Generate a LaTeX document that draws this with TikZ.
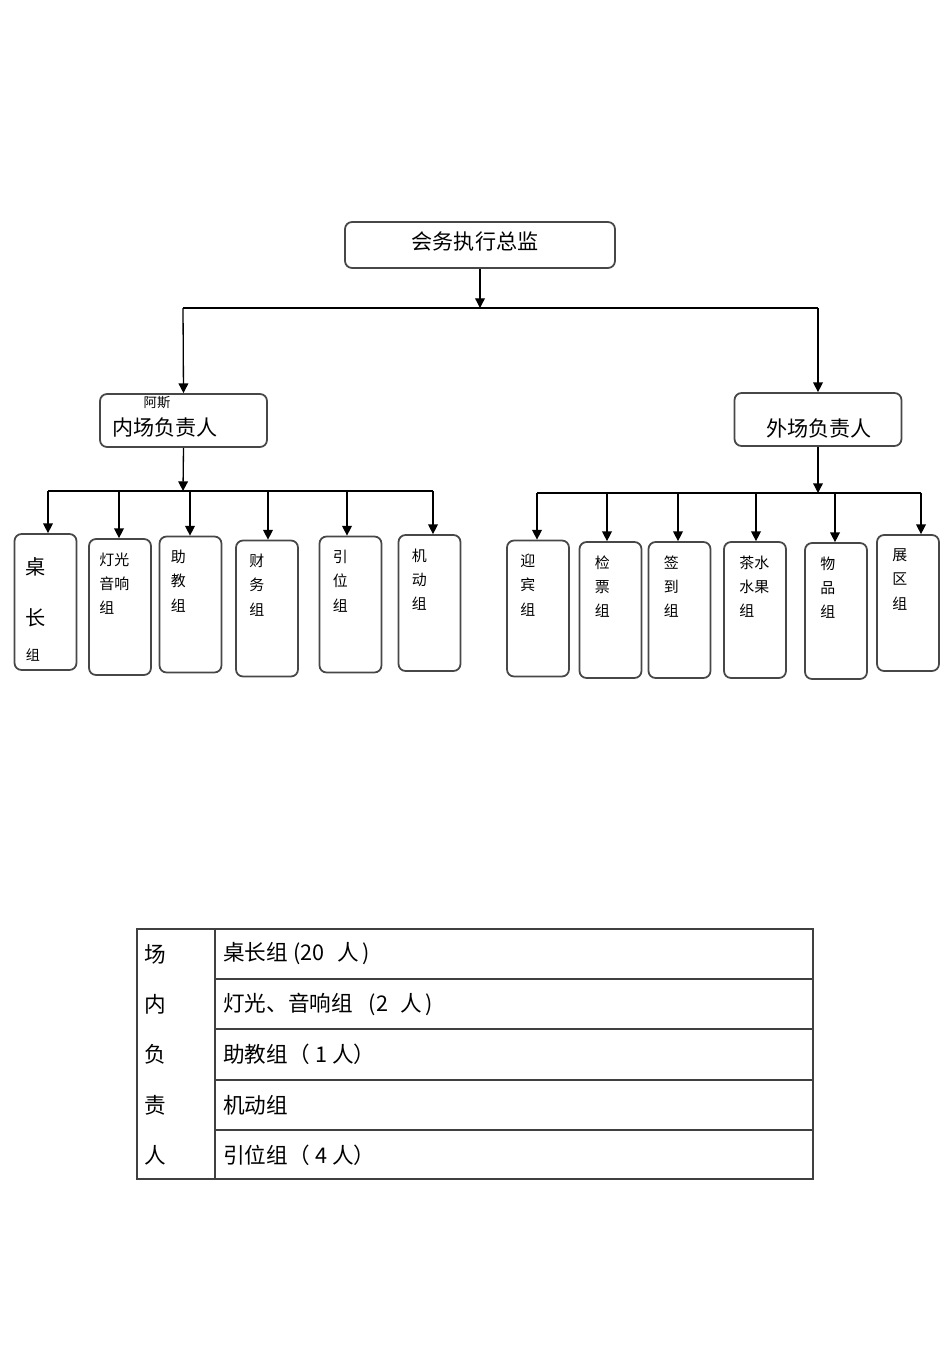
\documentclass[tikz,border=0pt]{standalone}
\usepackage{fontspec}
\setmainfont{Noto Sans CJK SC}
\usetikzlibrary{arrows.meta, calc, positioning}

\begin{document}
\begin{tikzpicture}[
    x=0.02cm, y=-0.02cm,
    >={Triangle[length=5.5pt,width=5.5pt]}, % default arrow tip
    gbox/.style={draw=black!72, line width=1pt, rounded corners=4pt, inner sep=0pt},
    groupbox/.style={gbox, minimum width=1.24cm, minimum height=2.72cm},
    headbox/.style={gbox, minimum width=3.34cm, minimum height=1.06cm},
    link/.style={->, line width=0.75pt},
    bus/.style={line width=0.75pt},
    bigtxt/.style={font=\fontsize{12}{14}\selectfont, inner sep=0pt},
    smalltxt/.style={font=\fontsize{8.5}{13.9}\selectfont, align=left, anchor=north west, inner sep=0pt},
    celltxt/.style={font=\fontsize{12.3}{14}\selectfont, inner sep=0pt}
]
    \fill[white] (0,0) rectangle (950,1345);
    \useasboundingbox (0,0) rectangle (950,1345);

    % Head boxes
    \node[gbox, minimum width=5.4cm, minimum height=0.92cm] (top) at (480,245) {};
    \node[bigtxt] (topT) at (475,242) {会务执行总监};
    \node[headbox] (nei) at (183.5,420.5) {};
    \node[font=\fontsize{7.6}{9}\selectfont, inner sep=0pt] (neiA) at (157,403) {阿斯};
    \node[bigtxt] (neiT) at (165,428) {内场负责人};
    \node[headbox] (wai) at (818,419.5) {};
    \node[bigtxt] (waiT) at (819,428) {外场负责人};

    % Bus coordinates
    \coordinate (topbus) at (480,308);
    \coordinate (tl) at (183,308);
    \coordinate (tr) at (818,308);
    \coordinate (nbus) at (183,491);
    \coordinate (wbus) at (818,493);

%    ######## inner groups
    \node[groupbox] (l1) at (45.5,602) {};
    \node[groupbox] (l2) at (120,607) {};
    \node[groupbox] (l3) at (190.5,604.5) {};
    \node[groupbox] (l4) at (267,608.5) {};
    \node[groupbox] (l5) at (350.5,604.5) {};
    \node[groupbox] (l6) at (429.5,603) {};
    \coordinate (dl1) at (48,491);
    \coordinate (dl2) at (119,491);
    \coordinate (dl3) at (190,491);
    \coordinate (dl4) at (268,491);
    \coordinate (dl5) at (347,491);
    \coordinate (dl6) at (433,491);

%    ######## outer groups
    \node[groupbox] (r1) at (538,608.5) {};
    \node[groupbox] (r2) at (610.5,610) {};
    \node[groupbox] (r3) at (679.5,610) {};
    \node[groupbox] (r4) at (755,610) {};
    \node[groupbox] (r5) at (836,611) {};
    \node[groupbox] (r6) at (908,603) {};
    \coordinate (dr1) at (537,493);
    \coordinate (dr2) at (607,493);
    \coordinate (dr3) at (678,493);
    \coordinate (dr4) at (756,493);
    \coordinate (dr5) at (835,493);
    \coordinate (dr6) at (921,493);

    % Group texts
    \node[font=\fontsize{11.5}{13}\selectfont, inner sep=0pt] (l1a) at (36,567) {桌};
    \node[font=\fontsize{11.5}{13}\selectfont, inner sep=0pt] (l1b) at (36,618) {长};
    \node[font=\fontsize{8}{10}\selectfont, inner sep=0pt] (l1c) at (33,655) {组};
    \node[smalltxt] (l2T) at ($(l2.north west)+(11,14)$) {灯光\\音响\\组};
    \node[smalltxt] (l3T) at ($(l3.north west)+(12,14)$) {助\\教\\组};
    \node[smalltxt] (l4T) at ($(l4.north west)+(14,14)$) {财\\务\\组};
    \node[smalltxt] (l5T) at ($(l5.north west)+(14,14)$) {引\\位\\组};
    \node[smalltxt] (l6T) at ($(l6.north west)+(14,14)$) {机\\动\\组};
    \node[smalltxt] (r1T) at ($(r1.north west)+(14,14)$) {迎\\宾\\组};
    \node[smalltxt] (r2T) at ($(r2.north west)+(16,14)$) {检\\票\\组};
    \node[smalltxt] (r3T) at ($(r3.north west)+(16,14)$) {签\\到\\组};
    \node[smalltxt] (r4T) at ($(r4.north west)+(16,14)$) {茶水\\水果\\组};
    \node[smalltxt] (r5T) at ($(r5.north west)+(16,14)$) {物\\品\\组};
    \node[smalltxt] (r6T) at ($(r6.north west)+(16,14)$) {展\\区\\组};

    % Connectors
    \draw[link] (top.south) -- (topbus);
    \draw[bus] (tl) -- (tr);
    \draw[link] (tl) -- (nei.north);
    \draw[link] (tr) -- (wai.north);
    \draw[link] (nei.south) -- (nbus);
    \draw[link] (wai.south) -- (wbus);
    \draw[bus] (dl1) -- (dl6);
    \draw[bus] (dr1) -- (dr6);
    \draw[link] (dl1) -- (dl1 |- l1.north);
    \draw[link] (dl2) -- (dl2 |- l2.north);
    \draw[link] (dl3) -- (dl3 |- l3.north);
    \draw[link] (dl4) -- (dl4 |- l4.north);
    \draw[link] (dl5) -- (dl5 |- l5.north);
    \draw[link] (dl6) -- (dl6 |- l6.north);
    \draw[link] (dr1) -- (dr1 |- r1.north);
    \draw[link] (dr2) -- (dr2 |- r2.north);
    \draw[link] (dr3) -- (dr3 |- r3.north);
    \draw[link] (dr4) -- (dr4 |- r4.north);
    \draw[link] (dr5) -- (dr5 |- r5.north);
    \draw[link] (dr6) -- (dr6 |- r6.north);

%    ############# table
    \draw[black!75, line width=0.6pt] (137,929) rectangle (813,1179);
    \draw[black!75, line width=0.6pt] (215,929) -- (215,1179);
    \draw[black!75, line width=0.6pt] (215,979) -- (813,979);
    \draw[black!75, line width=0.6pt] (215,1029) -- (813,1029);
    \draw[black!75, line width=0.6pt] (215,1080) -- (813,1080);
    \draw[black!75, line width=0.6pt] (215,1130) -- (813,1130);

    \node[celltxt] (c1) at (155,954) {场};
    \node[celltxt] (c2) at (155,1004) {内};
    \node[celltxt] (c3) at (155,1054) {负};
    \node[celltxt] (c4) at (155,1105) {责};
    \node[celltxt] (c5) at (155,1155) {人};
    \node[celltxt, anchor=west] (g1) at (223,954) {桌长组\hspace{3pt}(20\hspace{7pt}人\hspace{2pt})};
    \node[celltxt, anchor=west] (g2) at (223,1004) {灯光、音响组\hspace{9pt}(2\hspace{7pt}人\hspace{2pt})};
    \node[celltxt, anchor=west] (g3) at (223,1054) {助教组（\hspace{3pt}1\hspace{3pt}人）};
    \node[celltxt, anchor=west] (g4) at (223,1105) {机动组};
    \node[celltxt, anchor=west] (g5) at (223,1155) {引位组（\hspace{3pt}4\hspace{3pt}人）};

\end{tikzpicture}
\end{document}
